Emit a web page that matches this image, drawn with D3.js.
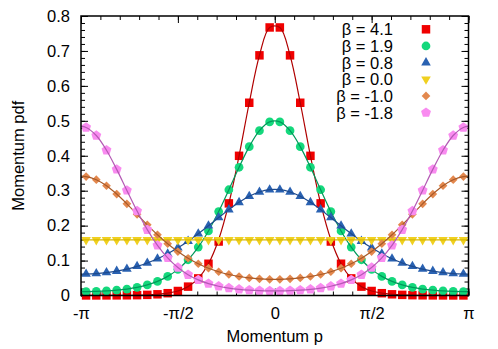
<!DOCTYPE html>
<html>
<head>
<meta charset="utf-8">
<script src="https://cdn.jsdelivr.net/npm/d3@7"></script>
<style>
  html, body { margin: 0; padding: 0; background: #fff; }
  svg { display: block; font-family: "Liberation Sans", Arial, sans-serif; }
</style>
</head>
<body>
<div id="chart"></div>
<script>
// momentum bin centres (radians), 38 bins over [-pi, pi]
var momentum = [-3.0589,-2.8936,-2.7282,-2.5629,-2.3975,-2.2322,-2.0668,-1.9015,-1.7361,-1.5708,-1.4054,-1.2401,-1.0748,-0.9094,-0.7441,-0.5787,-0.4134,-0.2480,-0.0827,
                 0.0827,0.2480,0.4134,0.5787,0.7441,0.9094,1.0748,1.2401,1.4054,1.5708,1.7361,1.9015,2.0668,2.2322,2.3975,2.5629,2.7282,2.8936,3.0589];

var betaLabels = ['β = 4.1', 'β = 1.9', 'β = 0.8', 'β = 0.0', 'β = -1.0', 'β = -1.8'];

// measured pdf values (markers)
var pdfB41 = [0.0002,0.0002,0.0003,0.0004,0.0006,0.0010,0.0018,0.0034,0.0066,0.0129,0.0254,0.0489,0.0909,0.1545,0.2637,0.3998,0.5517,0.6874,0.7672,
              0.7672,0.6874,0.5517,0.3998,0.2637,0.1545,0.0909,0.0489,0.0254,0.0129,0.0066,0.0034,0.0018,0.0010,0.0006,0.0004,0.0003,0.0002,0.0002];
var pdfB19 = [0.0113,0.0119,0.0131,0.0152,0.0185,0.0233,0.0303,0.0404,0.0547,0.0748,0.1023,0.1386,0.1848,0.2403,0.3027,0.3670,0.4261,0.4719,0.4969,
              0.4969,0.4719,0.4261,0.3670,0.3027,0.2403,0.1848,0.1386,0.1023,0.0748,0.0547,0.0404,0.0303,0.0233,0.0185,0.0152,0.0131,0.0119,0.0113];
var pdfB08 = [0.0615,0.0628,0.0656,0.0698,0.0757,0.0835,0.0932,0.1052,0.1196,0.1364,0.1556,0.1769,0.1997,0.2230,0.2458,0.2666,0.2839,0.2963,0.3028,
              0.3028,0.2963,0.2839,0.2666,0.2458,0.2230,0.1997,0.1769,0.1556,0.1364,0.1196,0.1052,0.0932,0.0835,0.0757,0.0698,0.0656,0.0628,0.0615];
var pdfB00 = [0.1592,0.1592,0.1592,0.1592,0.1592,0.1592,0.1592,0.1592,0.1592,0.1592,0.1592,0.1592,0.1592,0.1592,0.1592,0.1592,0.1592,0.1592,0.1592,
              0.1592,0.1592,0.1592,0.1592,0.1592,0.1592,0.1592,0.1592,0.1592,0.1592,0.1592,0.1592,0.1592,0.1592,0.1592,0.1592,0.1592,0.1592,0.1592];
var pdfBm10 = [0.3405,0.3314,0.3141,0.2904,0.2624,0.2323,0.2023,0.1739,0.1482,0.1257,0.1066,0.0909,0.0781,0.0680,0.0602,0.0544,0.0503,0.0477,0.0464,
               0.0464,0.0477,0.0503,0.0544,0.0602,0.0680,0.0781,0.0909,0.1066,0.1257,0.1482,0.1739,0.2023,0.2323,0.2624,0.2904,0.3141,0.3314,0.3405];
var pdfBm18 = [0.4810,0.4580,0.4159,0.3610,0.3008,0.2417,0.1884,0.1435,0.1076,0.0800,0.0595,0.0446,0.0340,0.0265,0.0213,0.0177,0.0154,0.0140,0.0133,
               0.0133,0.0140,0.0154,0.0177,0.0213,0.0265,0.0340,0.0446,0.0595,0.0800,0.1076,0.1435,0.1884,0.2417,0.3008,0.3610,0.4159,0.4580,0.4810];

// fitted curve for beta = 4.1 (the others sit on their markers)
var fitB41 = [0.0002,0.0002,0.0003,0.0004,0.0006,0.0010,0.0018,0.0034,0.0066,0.0129,0.0254,0.0489,0.0909,0.1603,0.2637,0.3998,0.5517,0.6874,0.7672,
              0.7672,0.6874,0.5517,0.3998,0.2637,0.1603,0.0909,0.0489,0.0254,0.0129,0.0066,0.0034,0.0018,0.0010,0.0006,0.0004,0.0003,0.0002,0.0002];
// curve value at p = -pi and p = pi
var edgePdf = [0.0002, 0.0112, 0.0613, 0.1592, 0.3417, 0.4839];

var xTickValues = [-Math.PI, -Math.PI / 2, 0, Math.PI / 2, Math.PI];
var xTickLabels = ['-π', '-π/2', '0', 'π/2', 'π'];
var yTickValues = [0, 0.1, 0.2, 0.3, 0.4, 0.5, 0.6, 0.7, 0.8];
var yTickLabels = ['0', '0.1', '0.2', '0.3', '0.4', '0.5', '0.6', '0.7', '0.8'];

var SERIES = [
  { label: betaLabels[0], points: pdfB41,  fit: fitB41,  edge: edgePdf[0], shape: 'square',   fill: '#f00000', line: '#b00000' },
  { label: betaLabels[1], points: pdfB19,  fit: pdfB19,  edge: edgePdf[1], shape: 'circle',   fill: '#14d87c', line: '#00985a' },
  { label: betaLabels[2], points: pdfB08,  fit: pdfB08,  edge: edgePdf[2], shape: 'triangle', fill: '#2a62b2', line: '#1d4a8e' },
  { label: betaLabels[3], points: pdfB00,  fit: pdfB00,  edge: edgePdf[3], shape: 'tridown',  fill: '#f0d020', line: '#d8b800' },
  { label: betaLabels[4], points: pdfBm10, fit: pdfBm10, edge: edgePdf[4], shape: 'diamond',  fill: '#e3884e', line: '#a85a28' },
  { label: betaLabels[5], points: pdfBm18, fit: pdfBm18, edge: edgePdf[5], shape: 'pentagon', fill: '#f98bf0', line: '#b45ab4' }
];

var W = 498, H = 349;
var margin = { top: 16, right: 29.5, bottom: 53.5, left: 81 };
var width = W - margin.left - margin.right;
var height = H - margin.top - margin.bottom;
var FONT = 16.5;

var svg = d3.select('#chart').append('svg')
  .attr('width', W).attr('height', H);

var g = svg.append('g')
  .attr('transform', 'translate(' + margin.left + ',' + margin.top + ')');

var x = d3.scaleLinear().domain([-Math.PI, Math.PI]).range([0, width]);
var y = d3.scaleLinear().domain([0, 0.8]).range([height, 0]);

// marker shapes
function pentagon(r) {
  var pts = d3.range(5).map(function(k) {
    var a = -Math.PI / 2 + k * 2 * Math.PI / 5;
    return [r * Math.cos(a), r * Math.sin(a)];
  });
  return 'M' + pts.join('L') + 'Z';
}
function markerPath(shape) {
  switch (shape) {
    case 'square':   return d3.symbol(d3.symbolSquare, 72)();
    case 'circle':   return d3.symbol(d3.symbolCircle, 60)();
    case 'triangle': return d3.symbol(d3.symbolTriangle, 40)();
    case 'tridown':  return d3.symbol(d3.symbolTriangle, 40)();
    case 'diamond':  return d3.symbol(d3.symbolSquare, 38)();
    case 'pentagon': return pentagon(5.2);
  }
}
function markerRot(shape) {
  if (shape === 'tridown') return ' rotate(180)';
  if (shape === 'diamond') return ' rotate(45)';
  return '';
}

function styleTicks(sel) {
  sel.select('.domain').remove();
  sel.selectAll('line').attr('stroke', '#000').attr('stroke-width', 1);
}
function styleLabels(sel) {
  sel.selectAll('text').attr('font-size', FONT).attr('fill', '#000').attr('font-family', 'inherit');
}

// minor ticks
var xMinor = d3.range(-10, 11).map(function(k) { return k * Math.PI / 10; });
var yMinor = d3.range(0, 41).map(function(k) { return k * 0.02; });

g.append('g').attr('transform', 'translate(0,' + height + ')')
  .call(d3.axisBottom(x).tickValues(xMinor).tickSize(-4).tickFormat('')).call(styleTicks);
g.append('g')
  .call(d3.axisTop(x).tickValues(xMinor).tickSize(-4).tickFormat('')).call(styleTicks);
g.append('g')
  .call(d3.axisLeft(y).tickValues(yMinor).tickSize(-4).tickFormat('')).call(styleTicks);
g.append('g').attr('transform', 'translate(' + width + ',0)')
  .call(d3.axisRight(y).tickValues(yMinor).tickSize(-4).tickFormat('')).call(styleTicks);

// major ticks + labels
g.append('g').attr('transform', 'translate(0,' + height + ')')
  .call(d3.axisBottom(x).tickValues(xTickValues).tickSize(-7).tickPadding(12)
    .tickFormat(function(d, i) { return xTickLabels[i]; }))
  .call(styleTicks).call(styleLabels);
g.append('g')
  .call(d3.axisTop(x).tickValues(xTickValues).tickSize(-7).tickFormat('')).call(styleTicks);
g.append('g')
  .call(d3.axisLeft(y).tickValues(yTickValues).tickSize(-7).tickPadding(11)
    .tickFormat(function(d, i) { return yTickLabels[i]; }))
  .call(styleTicks).call(styleLabels);
g.append('g').attr('transform', 'translate(' + width + ',0)')
  .call(d3.axisRight(y).tickValues(yTickValues).tickSize(-7).tickFormat('')).call(styleTicks);

// series: markers, then the curve on top
var line = d3.line()
  .x(function(d) { return x(d[0]); })
  .y(function(d) { return y(d[1]); })
  .curve(d3.curveCatmullRom.alpha(0.5));

SERIES.forEach(function(s) {
  var pts = momentum.map(function(p, i) { return [p, s.points[i]]; });
  g.append('g').selectAll('path')
    .data(pts).enter().append('path')
    .attr('d', markerPath(s.shape))
    .attr('transform', function(d) { return 'translate(' + x(d[0]) + ',' + y(d[1]) + ')' + markerRot(s.shape); })
    .attr('fill', s.fill);

  var curve = [[-Math.PI, s.edge]]
    .concat(momentum.map(function(p, i) { return [p, s.fit[i]]; }))
    .concat([[Math.PI, s.edge]]);
  g.append('path')
    .datum(curve)
    .attr('d', line)
    .attr('fill', 'none')
    .attr('stroke', s.line)
    .attr('stroke-width', 1.2);
});

// frame
g.append('rect')
  .attr('width', width).attr('height', height)
  .attr('fill', 'none').attr('stroke', '#000').attr('stroke-width', 1.5);

// legend (markers only)
var legend = g.append('g').attr('transform', 'translate(0,' + (29.3 - margin.top) + ')');
SERIES.forEach(function(s, i) {
  var row = legend.append('g').attr('transform', 'translate(0,' + (i * 16.67) + ')');
  row.append('text')
    .attr('x', 393 - margin.left).attr('y', 0)
    .attr('text-anchor', 'end').attr('dominant-baseline', 'central')
    .attr('font-size', FONT).attr('fill', '#000')
    .text(s.label);
  row.append('path')
    .attr('d', markerPath(s.shape))
    .attr('transform', 'translate(' + (426 - margin.left) + ',0)' + markerRot(s.shape))
    .attr('fill', s.fill);
});

// axis titles
svg.append('text')
  .attr('x', margin.left + width / 2).attr('y', 342)
  .attr('text-anchor', 'middle').attr('font-size', FONT).attr('fill', '#000')
  .text('Momentum p');
svg.append('text')
  .attr('transform', 'translate(24,' + (margin.top + height / 2) + ') rotate(-90)')
  .attr('text-anchor', 'middle').attr('font-size', FONT).attr('fill', '#000')
  .text('Momentum pdf');
</script>
</body>
</html>
